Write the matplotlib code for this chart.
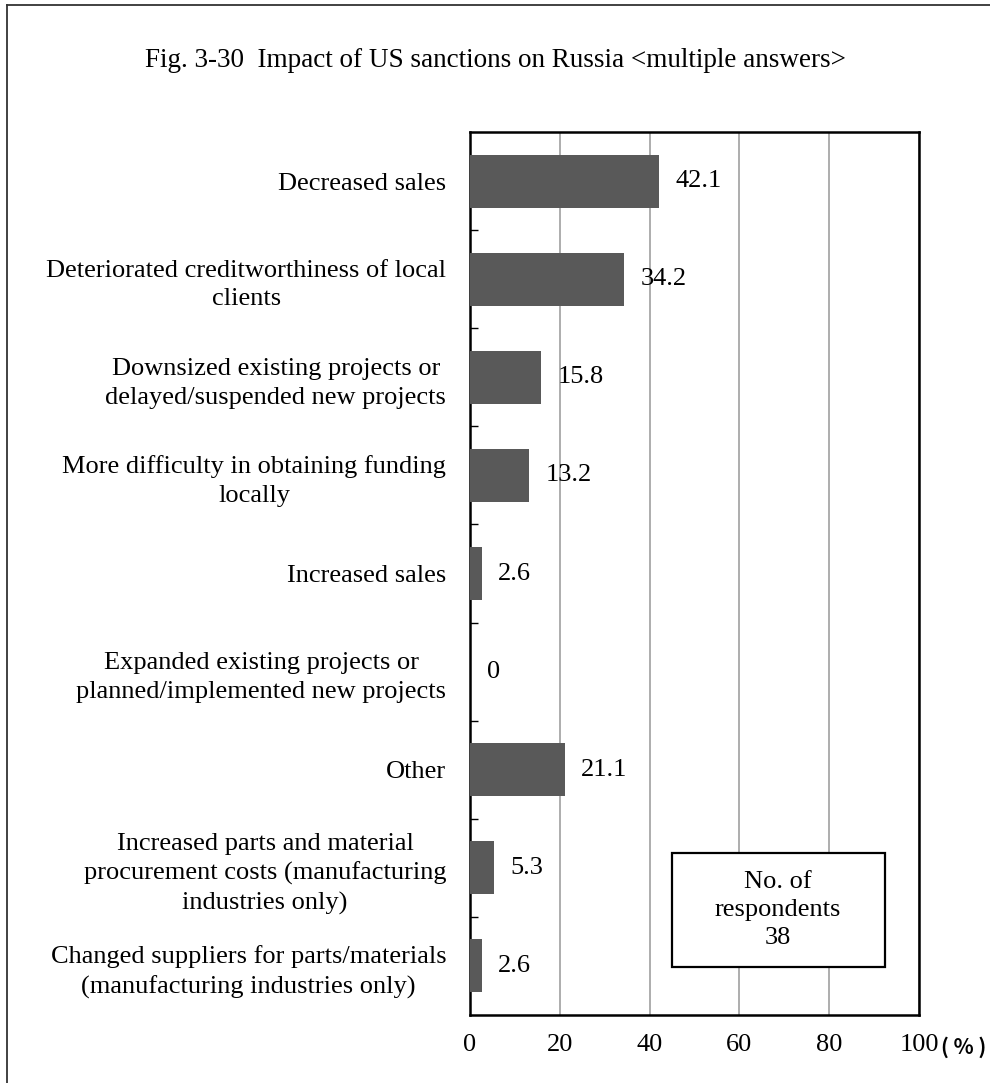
import matplotlib.pyplot as plt
from matplotlib.lines import Line2D
from matplotlib.patches import Rectangle

plt.rcParams['font.family'] = ['Liberation Serif', 'Noto Sans CJK JP']

# data
categories = [
    'Decreased sales',
    'Deteriorated creditworthiness of local\nclients',
    'Downsized existing projects or\ndelayed/suspended new projects',
    'More difficulty in obtaining funding\nlocally',
    'Increased sales',
    'Expanded existing projects or\nplanned/implemented new projects',
    'Other',
    'Increased parts and material\nprocurement costs (manufacturing\nindustries only)',
    'Changed suppliers for parts/materials\n(manufacturing industries only)',
]
values = [42.1, 34.2, 15.8, 13.2, 2.6, 0, 21.1, 5.3, 2.6]
value_labels = ['42.1', '34.2', '15.8', '13.2', '2.6', '0', '21.1', '5.3', '2.6']
xticks = [0, 20, 40, 60, 80, 100]
respondents = 38

fs = 19
fig = plt.figure(figsize=(9.9, 10.83), dpi=100)
ax = fig.add_axes([0.4747, 0.0628, 0.4536, 0.8153])

ypos = list(range(len(categories)))
ax.barh(ypos, values, height=0.54, color='#595959', zorder=3)
ax.set_ylim(len(categories) - 0.5, -0.5)
ax.set_xlim(0, 100)

for y, v, lab in zip(ypos, values, value_labels):
    ax.annotate(lab, (v, y), xytext=(12, 0), textcoords='offset points',
                ha='left', va='center', fontsize=fs, zorder=4)

# y axis: labels at centres, small inward ticks at boundaries
ax.set_yticks(ypos)
ax.set_yticklabels(categories, fontsize=fs, multialignment='center')
for t in ax.get_yticklabels():
    t.set_linespacing(1.4)
ax.tick_params(axis='y', which='major', length=0, pad=17)
ax.set_yticks([i + 0.5 for i in range(len(categories) - 1)], minor=True)
ax.tick_params(axis='y', which='minor', direction='in', length=6, width=1)

ax.set_xticks(xticks)
ax.set_xticklabels([str(t) for t in xticks], fontsize=fs)
ax.tick_params(axis='x', length=0, pad=14)
ax.xaxis.grid(True, color='#a0a0a0', linewidth=1.2, zorder=0)
ax.set_axisbelow(True)

for s in ax.spines.values():
    s.set_linewidth(1.8)
    s.set_color('black')

ax.annotate('( % )', (100, 0), xycoords=('data', 'axes fraction'),
            xytext=(16, -23), textcoords='offset points',
            ha='left', va='center', fontsize=15, fontweight='bold',
            family=['Noto Sans CJK JP'], annotation_clip=False)

# respondents box
ax.add_patch(Rectangle((0.45, 0.0544), 0.474, 0.129, transform=ax.transAxes,
                       fc='white', ec='black', lw=1.6, zorder=5))
ax.text(0.686, 0.119, 'No. of\nrespondents\n%d' % respondents,
        transform=ax.transAxes, ha='center', va='center',
        fontsize=fs, linespacing=1.35, zorder=6)

fig.text(0.5, 0.944, 'Fig. 3-30  Impact of US sanctions on Russia <multiple answers>',
         ha='center', va='center', fontsize=19.5)

# outer frame (cut at right and bottom)
fig.add_artist(Line2D([0.007, 0.007], [0.0, 0.9954], color='#333333', lw=1.3))
fig.add_artist(Line2D([0.007, 1.0], [0.9954, 0.9954], color='#333333', lw=1.3))

fig.savefig('out.png', dpi=100)
